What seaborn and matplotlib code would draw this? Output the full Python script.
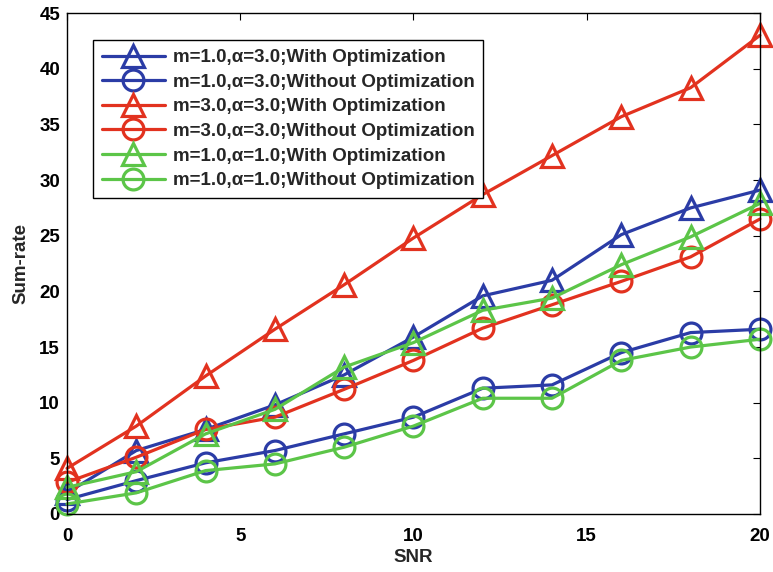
import matplotlib
matplotlib.use("Agg")
import matplotlib.pyplot as plt
import seaborn as sns
import pandas as pd

# SNR grid and sum-rate curves
snr = [0, 2, 4, 6, 8, 10, 12, 14, 16, 18, 20]
m1_a3_opt = [1.9, 5.7, 7.6, 9.8, 12.5, 15.9, 19.6, 21.0, 25.1, 27.5, 29.1]
m1_a3_noopt = [1.3, 3.0, 4.6, 5.7, 7.2, 8.7, 11.3, 11.6, 14.5, 16.3, 16.6]
m3_a3_opt = [4.1, 7.9, 12.4, 16.6, 20.6, 24.8, 28.7, 32.2, 35.7, 38.3, 43.0]
m3_a3_noopt = [2.85, 5.1, 7.6, 8.7, 11.2, 13.8, 16.7, 18.8, 20.9, 23.1, 26.5]
m1_a1_opt = [2.4, 3.8, 7.2, 9.4, 13.2, 15.4, 18.3, 19.4, 22.4, 24.9, 27.9]
m1_a1_noopt = [0.9, 1.9, 3.9, 4.5, 6.0, 7.9, 10.4, 10.4, 13.8, 15.0, 15.7]

labels = [
    "m=1.0,\u03b1=3.0;With Optimization",
    "m=1.0,\u03b1=3.0;Without Optimization",
    "m=3.0,\u03b1=3.0;With Optimization",
    "m=3.0,\u03b1=3.0;Without Optimization",
    "m=1.0,\u03b1=1.0;With Optimization",
    "m=1.0,\u03b1=1.0;Without Optimization",
]
series = [m1_a3_opt, m1_a3_noopt, m3_a3_opt, m3_a3_noopt, m1_a1_opt, m1_a1_noopt]
colors = ["#2B3CA6", "#2B3CA6", "#E2321F", "#E2321F", "#5CC548", "#5CC548"]
markers = ["^", "o", "^", "o", "^", "o"]

sns.set_theme(style="white")
plt.rcParams["font.family"] = ["Liberation Sans", "DejaVu Sans"]
plt.rcParams["font.weight"] = "bold"

FS = 13.5

fig = plt.figure(figsize=(7.73, 5.72), dpi=100)
ax = fig.add_axes([0.0867, 0.1014, 0.8963, 0.8756])

for vals, lab, col, mk in zip(series, labels, colors, markers):
    df = pd.DataFrame({"SNR": snr, "rate": vals})
    sns.lineplot(
        data=df, x="SNR", y="rate", ax=ax, color=col, linewidth=2.3,
        marker=mk, markersize=15 if mk == "o" else 16,
        markerfacecolor="none", markeredgecolor=col, markeredgewidth=2.3,
        label=lab, legend=False, clip_on=False,
    )

ax.set_xlim(0, 20)
ax.set_ylim(0, 45)
ax.set_xticks([0, 5, 10, 15, 20])
ax.set_yticks(range(0, 46, 5))
ax.set_xlabel("SNR", fontsize=FS, fontweight="bold", labelpad=3)
ax.set_ylabel("Sum-rate", fontsize=FS, fontweight="bold", labelpad=7)
ax.tick_params(direction="in", length=5, width=0.8, top=True, right=True,
               labelsize=FS, colors="black")
ax.tick_params(axis="x", pad=10)
ax.tick_params(axis="y", pad=5)
for lbl in ax.get_xticklabels() + ax.get_yticklabels():
    lbl.set_fontweight("bold")
for sp in ax.spines.values():
    sp.set_color("black")
    sp.set_linewidth(1.0)
    sp.set_zorder(5)

leg = ax.legend(
    handles=ax.get_lines(), labels=labels,
    loc="upper left", bbox_to_anchor=(0.0375, 0.946),
    borderaxespad=0, fancybox=False, framealpha=1, edgecolor="black",
    handlelength=3.36, handletextpad=0.43,
    labelspacing=0.4, borderpad=0.47,
    prop={"weight": "bold", "size": FS},
)
leg.get_frame().set_linewidth(1.0)
leg.set_zorder(10)

fig.savefig("out.png", dpi=100, facecolor="white")
